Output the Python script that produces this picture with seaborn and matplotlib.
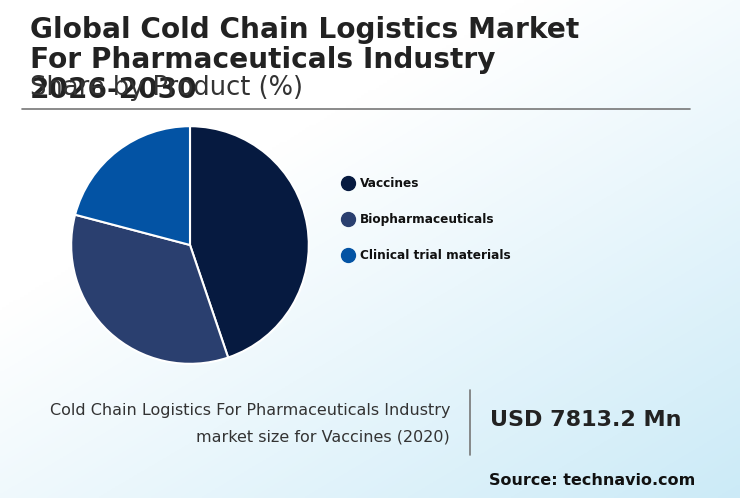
import matplotlib
matplotlib.use("Agg")
import matplotlib.pyplot as plt
import numpy as np
import seaborn as sns

sns.set_theme(style="white")
plt.rcParams['font.family'] = ['DejaVu Sans']

categories = ["Vaccines", "Biopharmaceuticals", "Clinical trial materials"]
shares = [44.8, 34.3, 20.9]
colors = ["#061a40", "#2a3f6f", "#0353a4"]

W, H = 740, 498
fig = plt.figure(figsize=(7.4, 4.98), dpi=100)

bg = fig.add_axes([0, 0, 1, 1])
xx, yy = np.meshgrid(np.linspace(0, 1, 200), np.linspace(0, 1, 200))
t = np.clip((xx * 0.7 + yy * 0.8) - 0.5, 0, 1)
c0 = np.array([1, 1, 1]); c1 = np.array([0.80, 0.92, 0.97])
img = c0[None, None, :] * (1 - t[..., None]) + c1[None, None, :] * t[..., None]
bg.imshow(img, extent=[0, 1, 0, 1], aspect="auto", origin="upper")
bg.axis("off")

def fx(px): return px / W
def fy(py): return 1 - py / H

fig.text(fx(30), fy(30), "Global Cold Chain Logistics Market", fontsize=20.2, fontweight="bold", color="#222222", va="center")
fig.text(fx(30), fy(60), "For Pharmaceuticals Industry", fontsize=20.2, fontweight="bold", color="#222222", va="center")
fig.text(fx(30), fy(90), "2026-2030", fontsize=20.2, fontweight="bold", color="#222222", va="center")
fig.text(fx(30), fy(88), "Share by Product (%)", fontsize=18.5, color="#333333", va="center")
fig.add_artist(plt.Line2D([fx(22), fx(690)], [fy(109), fy(109)], color="#777777", lw=1.2))

r = 120
ax = fig.add_axes([fx(190 - r), fy(245 + r), 2 * r / W, 2 * r / H])
ax.pie(shares, colors=colors, startangle=90, counterclock=False, radius=1,
       wedgeprops=dict(edgecolor="white", linewidth=1.5))
ax.set_xlim(-1.01, 1.01); ax.set_ylim(-1.01, 1.01)
ax.set_aspect("equal")
ax.axis("off")

for i, (cat, col) in enumerate(zip(categories, colors)):
    y = fy(183 + 36 * i)
    fig.add_artist(plt.Line2D([fx(348)], [y], marker="o", markersize=10, color=col, linestyle="none"))
    fig.text(fx(360), y, cat, fontsize=8.7, fontweight="bold", color="#111111", va="center")

fig.text(fx(450), fy(410), "Cold Chain Logistics For Pharmaceuticals Industry", fontsize=11.5, color="#333333", ha="right", va="center")
fig.text(fx(450), fy(437), "market size for Vaccines (2020)", fontsize=11.5, color="#333333", ha="right", va="center")
fig.add_artist(plt.Line2D([fx(470), fx(470)], [fy(390), fy(455)], color="#777777", lw=1.2))
fig.text(fx(490), fy(420), "USD 7813.2 Mn", fontsize=16, fontweight="bold", color="#222222", va="center")
fig.text(fx(695), fy(480), "Source: technavio.com", fontsize=11.5, fontweight="bold", color="#111111", ha="right", va="center")

fig.savefig("out.png", dpi=100)
